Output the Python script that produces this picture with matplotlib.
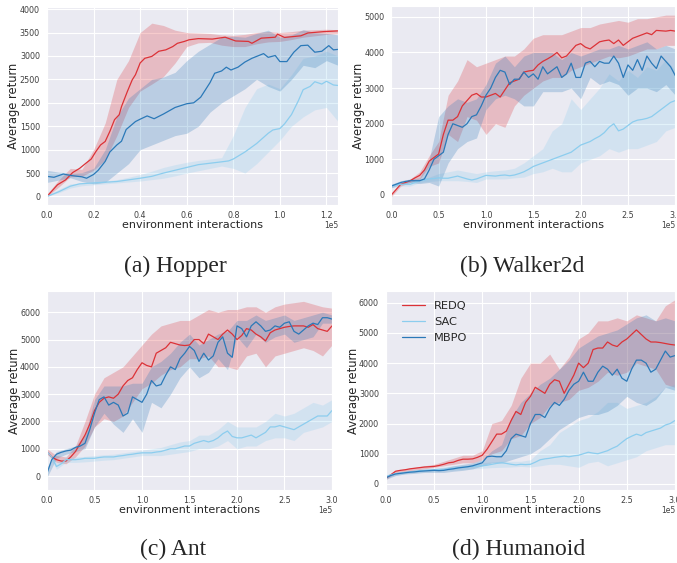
import matplotlib
matplotlib.use('Agg')
import matplotlib.pyplot as plt
import numpy as np
import seaborn as sns

sns.set_style('darkgrid')
plt.rcParams['font.family'] = ['DejaVu Sans']

# ---------------- data (x in units of 1e5 env interactions) ----------------
# Hopper
hop_redq_x = [0, 0.045, 0.08, 0.11, 0.14, 0.167, 0.19, 0.21, 0.23, 0.25, 0.27, 0.29, 0.31, 0.32,
              0.345, 0.366, 0.38, 0.40, 0.42, 0.45, 0.48, 0.51, 0.54, 0.56, 0.59, 0.61, 0.65, 0.71,
              0.765, 0.81, 0.865, 0.88, 0.92, 0.98, 0.99, 1.02, 1.09, 1.12, 1.19, 1.25]
hop_redq_y = [0, 250, 355, 510, 600, 710, 800, 960, 1100, 1175, 1390, 1640, 1745, 1920,
              2240, 2490, 2600, 2850, 2950, 2990, 3100, 3130, 3200, 3270, 3310, 3345, 3370, 3360,
              3400, 3320, 3310, 3270, 3380, 3400, 3465, 3395, 3430, 3490, 3520, 3535]
hop_mbpo_x = [0, 0.03, 0.07, 0.1, 0.15, 0.17, 0.2, 0.22, 0.25, 0.27, 0.3, 0.32, 0.34, 0.38, 0.4,
              0.43, 0.46, 0.5, 0.55, 0.6, 0.63, 0.66, 0.7, 0.72, 0.75, 0.77, 0.79, 0.82, 0.85, 0.88,
              0.9, 0.93, 0.95, 0.98, 1.0, 1.03, 1.06, 1.09, 1.12, 1.15, 1.18, 1.21, 1.23, 1.25]
hop_mbpo_y = [430, 410, 480, 450, 420, 390, 470, 560, 750, 950, 1100, 1180, 1430, 1600, 1650,
              1720, 1660, 1760, 1900, 1980, 2000, 2120, 2430, 2630, 2680, 2760, 2700, 2760, 2870, 2950,
              2990, 3050, 2970, 3010, 2880, 2880, 3080, 3220, 3230, 3080, 3100, 3220, 3130, 3140]
hop_sac_x = [0, 0.05, 0.1, 0.14, 0.2, 0.3, 0.4, 0.45, 0.5, 0.55, 0.6, 0.65, 0.7, 0.75, 0.78, 0.8,
             0.85, 0.9, 0.95, 0.97, 1.0, 1.02, 1.05, 1.08, 1.1, 1.13, 1.15, 1.18, 1.2, 1.23, 1.25]
hop_sac_y = [0, 100, 220, 270, 290, 320, 390, 430, 500, 560, 620, 680, 710, 740, 760, 800,
             950, 1130, 1350, 1420, 1450, 1550, 1750, 2050, 2280, 2350, 2450, 2400, 2460, 2380, 2370]
hop_band_x = [0, 0.05, 0.1, 0.15, 0.2, 0.25, 0.3, 0.35, 0.4, 0.45, 0.5, 0.55, 0.6, 0.65, 0.7,
              0.75, 0.8, 0.85, 0.9, 0.95, 1.0, 1.05, 1.1, 1.15, 1.2, 1.25]
hop_redq_hi = [50, 350, 600, 580, 1000, 1570, 2500, 2900, 3500, 3700, 3650, 3550, 3500, 3490, 3480,
               3450, 3440, 3460, 3500, 3520, 3500, 3520, 3550, 3560, 3570, 3560]
hop_redq_lo = [0, 200, 420, 430, 560, 780, 1300, 1900, 2250, 2400, 2560, 2850, 3200, 3280, 3290,
               3230, 3200, 3200, 3260, 3300, 3310, 3350, 3400, 3430, 3460, 3480]
hop_mbpo_hi = [560, 520, 500, 510, 600, 1000, 1700, 2100, 2300, 2500, 2550, 2650, 2900, 3100, 3250,
               3400, 3420, 3400, 3480, 3550, 3400, 3450, 3560, 3500, 3480, 3450]
hop_mbpo_lo = [300, 350, 400, 320, 270, 300, 500, 700, 1000, 1100, 1200, 1300, 1350, 1500, 1800,
               2000, 2150, 2300, 2500, 2350, 2250, 2500, 2800, 2750, 2900, 2800]
hop_sac_hi = [30, 150, 270, 290, 300, 330, 360, 410, 470, 540, 620, 680, 730, 770, 800,
              830, 1300, 1900, 2300, 2400, 2300, 2600, 2950, 3000, 3100, 3000]
hop_sac_lo = [0, 80, 180, 230, 250, 270, 290, 310, 330, 360, 390, 440, 500, 550, 600,
              650, 600, 500, 700, 950, 1200, 1500, 1700, 1850, 1900, 1600]

# shared sample points for the 3e5-step tasks
steps_mean = [0, 0.05, 0.1, 0.15, 0.2, 0.25, 0.3, 0.35, 0.4, 0.45, 0.5, 0.55, 0.6, 0.65, 0.7, 0.75,
              0.8, 0.85, 0.9, 0.95, 1.0, 1.05, 1.1, 1.15, 1.2, 1.25, 1.3, 1.35, 1.4, 1.45, 1.5,
              1.55, 1.6, 1.65, 1.7, 1.75, 1.8, 1.85, 1.9, 1.95, 2.0, 2.05, 2.1, 2.15, 2.2, 2.25,
              2.3, 2.35, 2.4, 2.45, 2.5, 2.55, 2.6, 2.65, 2.7, 2.75, 2.8, 2.85, 2.9, 2.95, 3.0]
steps_band = [0, 0.1, 0.2, 0.3, 0.4, 0.5, 0.6, 0.7, 0.8, 0.9, 1.0, 1.1, 1.2, 1.3, 1.4, 1.5,
              1.6, 1.7, 1.8, 1.9, 2.0, 2.1, 2.2, 2.3, 2.4, 2.5, 2.6, 2.7, 2.8, 2.9, 3.0]

# Walker2d
walk_redq_y = [0, 150, 300, 350, 400, 480, 550, 700, 950, 1050, 1150, 1700, 2100, 2100, 2200, 2500,
               2650, 2800, 2850, 2750, 2750, 2800, 2850, 2750, 2950, 3150, 3200, 3250, 3450, 3480, 3500,
               3650, 3750, 3820, 3900, 4000, 3850, 3900, 4050, 4200, 4250, 4150, 4100, 4200, 4300, 4330,
               4350, 4250, 4350, 4200, 4300, 4400, 4450, 4500, 4550, 4500, 4620, 4610, 4600, 4620, 4600]
walk_mbpo_y = [250, 300, 350, 380, 400, 400, 400, 450, 700, 1000, 1100, 1200, 1700, 2000, 1950, 1900,
               2000, 2200, 2250, 2500, 2800, 3000, 3300, 3500, 3450, 3100, 3250, 3250, 3450, 3300, 3400,
               3250, 3600, 3400, 3500, 3600, 3300, 3400, 3700, 3300, 3300, 3700, 3750, 3600, 3750, 3700,
               3700, 3900, 3700, 3300, 3650, 3500, 3800, 3500, 3900, 3700, 3550, 3900, 3750, 3600, 3350]
walk_sac_y = [250, 280, 300, 300, 300, 350, 400, 420, 450, 460, 480, 470, 470, 500, 530, 490,
              450, 420, 450, 500, 550, 540, 530, 550, 560, 540, 560, 600, 650, 720, 800,
              850, 900, 950, 1000, 1050, 1100, 1150, 1200, 1300, 1400, 1450, 1500, 1580, 1650, 1750,
              1900, 2000, 1800, 1850, 1950, 2050, 2100, 2120, 2150, 2200, 2300, 2400, 2500, 2600, 2650]
walk_redq_hi = [50, 300, 450, 650, 1100, 1500, 2800, 3200, 3800, 3600, 3700, 3800, 3900, 3900, 4100, 4400,
                4500, 4500, 4500, 4600, 4700, 4700, 4800, 4850, 4900, 4850, 4950, 4950, 5000, 5050, 5050]
walk_redq_lo = [-50, 250, 350, 450, 800, 900, 1700, 1500, 2200, 2100, 1700, 2000, 1900, 2500, 2800, 3000,
                3200, 3300, 3300, 3500, 3600, 3700, 3800, 3900, 3850, 3900, 4000, 4100, 4100, 4200, 4200]
walk_mbpo_hi = [300, 400, 450, 480, 1000, 2200, 2500, 2700, 2600, 2700, 3100, 3700, 3900, 3600, 3900, 4000,
                4000, 4000, 3800, 4000, 3900, 4000, 4100, 4100, 4200, 4100, 4200, 4300, 4100, 4200, 4100]
walk_mbpo_lo = [200, 300, 350, 320, 350, 250, 900, 1300, 1500, 1600, 2400, 2700, 2800, 2700, 2500, 2500,
                2900, 2900, 2900, 3000, 2700, 3300, 3100, 3200, 3100, 2800, 3000, 3000, 2900, 3100, 2800]
walk_sac_hi = [300, 350, 400, 450, 500, 600, 650, 700, 650, 600, 650, 680, 700, 750, 900, 1100,
               1300, 1800, 2000, 2700, 2400, 2700, 3000, 3400, 3200, 3500, 3300, 3600, 3500, 3800, 3500]
walk_sac_lo = [200, 250, 250, 350, 380, 400, 400, 400, 380, 350, 450, 450, 450, 480, 500, 600,
               650, 750, 650, 650, 900, 1000, 1100, 1300, 1200, 1300, 1300, 1400, 1500, 1800, 1900]

# Ant
ant_redq_y = [900, 700, 600, 550, 550, 700, 900, 1200, 1500, 1900, 2400, 2700, 2850, 2900, 2850, 3000,
              3300, 3500, 3600, 3900, 4150, 4050, 4000, 4500, 4600, 4700, 4900, 4850, 4800, 4780, 4800,
              5000, 5000, 4850, 5200, 5100, 5000, 5200, 5350, 5200, 5000, 5150, 5400, 5350, 5200, 5100,
              4950, 5250, 5350, 5400, 5450, 5480, 5500, 5500, 5500, 5450, 5550, 5400, 5350, 5300, 5500]
ant_mbpo_y = [100, 600, 800, 870, 920, 950, 1050, 1100, 1200, 1700, 2300, 2800, 2900, 2600, 2700, 2600,
              2200, 2300, 2900, 2800, 2700, 3000, 3500, 3300, 3350, 3700, 4000, 3900, 4300, 4500, 4750,
              4600, 4200, 4500, 4250, 4400, 4900, 5100, 4500, 4350, 5500, 5400, 5100, 5500, 5650, 5500,
              5300, 5350, 5500, 5450, 5600, 5650, 5300, 5200, 5350, 5500, 5600, 5550, 5800, 5800, 5750]
ant_sac_y = [900, 700, 350, 450, 600, 600, 600, 620, 650, 650, 650, 680, 700, 700, 700, 730,
             750, 780, 800, 830, 850, 850, 850, 880, 900, 950, 1000, 1000, 1050, 1100, 1100,
             1200, 1250, 1300, 1250, 1300, 1400, 1550, 1650, 1450, 1400, 1400, 1450, 1500, 1400, 1500,
             1600, 1800, 1800, 1850, 1800, 1750, 1700, 1800, 1900, 2000, 2100, 2200, 2200, 2200, 2400]
ant_redq_hi = [1000, 750, 700, 1100, 2000, 3000, 3600, 3800, 4000, 4400, 4800, 5200, 5500, 5600, 5700, 5700,
               5900, 6100, 6000, 6100, 6100, 6200, 6200, 6000, 6200, 6300, 6350, 6400, 6300, 6200, 6150]
ant_redq_lo = [800, 500, 450, 700, 1100, 1800, 2100, 2000, 2200, 2700, 3200, 3400, 3700, 3900, 4000, 4300,
               4300, 4400, 4000, 4000, 3900, 4400, 4500, 4000, 4400, 4500, 4600, 4700, 4600, 4400, 4800]
ant_mbpo_hi = [300, 900, 1000, 1100, 1500, 2800, 3300, 3300, 3300, 3400, 3400, 4000, 4200, 4500, 4900, 5200,
               4800, 5000, 5200, 5300, 5700, 5700, 5900, 5700, 5800, 5900, 5700, 5800, 5900, 6000, 5900]
ant_mbpo_lo = [-50, 650, 800, 900, 1000, 1800, 2300, 1900, 1600, 2100, 1600, 2700, 2500, 3000, 3600, 4000,
               3600, 3800, 4300, 3900, 5100, 4700, 5200, 4900, 5100, 5200, 4900, 5000, 5100, 5600, 5600]
ant_sac_hi = [950, 500, 700, 700, 720, 750, 780, 800, 850, 900, 950, 1000, 1050, 1150, 1250, 1300,
              1500, 1500, 1700, 2000, 1800, 1800, 1800, 2000, 2300, 2200, 2300, 2500, 2700, 2600, 2800]
ant_sac_lo = [850, 250, 500, 500, 520, 550, 580, 600, 650, 700, 750, 750, 750, 800, 850, 900,
              1000, 1000, 1100, 1300, 1000, 1100, 1100, 1300, 1400, 1400, 1300, 1600, 1700, 1800, 2000]

# Humanoid
hum_redq_y = [200, 300, 420, 450, 470, 500, 520, 540, 560, 570, 580, 610, 650, 700, 720, 780,
              820, 820, 830, 880, 950, 1150, 1400, 1650, 1650, 1750, 2100, 2400, 2300, 2700, 2900,
              3200, 3100, 3000, 3300, 3450, 3400, 3000, 3300, 3600, 4000, 3850, 4000, 4450, 4500, 4500,
              4700, 4600, 4550, 4700, 4800, 4950, 5100, 4950, 4800, 4700, 4700, 4680, 4650, 4620, 4600]
hum_mbpo_y = [200, 280, 330, 350, 370, 390, 400, 420, 430, 440, 450, 440, 450, 480, 500, 530,
              550, 570, 600, 650, 700, 900, 920, 900, 900, 1100, 1500, 1650, 1600, 1550, 2000,
              2300, 2300, 2200, 2500, 2700, 2600, 2800, 3100, 3300, 3400, 3700, 3400, 3400, 3700, 3900,
              3800, 3600, 3800, 3500, 3400, 3800, 4100, 4100, 4000, 3700, 3800, 4100, 4400, 4200, 4250]
hum_sac_y = [250, 300, 340, 360, 380, 400, 420, 440, 450, 460, 470, 480, 480, 500, 520, 540,
             550, 570, 580, 590, 600, 620, 650, 680, 700, 680, 650, 630, 650, 640, 650,
             720, 800, 830, 850, 880, 900, 920, 900, 930, 950, 1000, 1050, 1020, 1000, 1050,
             1100, 1180, 1250, 1380, 1500, 1580, 1650, 1600, 1700, 1750, 1800, 1850, 1950, 2000, 2100]
hum_redq_hi = [250, 450, 500, 550, 600, 650, 750, 850, 950, 950, 1100, 2000, 2100, 2600, 3500, 4000,
               4000, 4300, 3800, 4200, 4800, 5000, 5400, 5400, 5500, 5400, 5600, 5500, 5400, 5900, 6100]
hum_redq_lo = [150, 350, 400, 450, 500, 550, 600, 650, 700, 700, 800, 1000, 1100, 1500, 1600, 2000,
               2200, 2600, 2700, 2800, 3100, 3200, 3400, 3700, 3600, 3700, 4000, 3900, 3800, 3300, 3200]
hum_mbpo_hi = [250, 380, 420, 450, 480, 500, 530, 600, 650, 700, 800, 1100, 1300, 2200, 2700, 3000,
               3300, 3500, 3800, 4100, 4500, 4700, 4900, 5000, 5100, 5300, 5500, 5600, 5400, 5500, 5400]
hum_mbpo_lo = [150, 280, 330, 350, 380, 380, 380, 420, 450, 500, 600, 700, 700, 800, 900, 1000,
               1200, 1500, 1800, 2000, 2200, 2300, 2300, 2400, 2600, 2900, 2700, 2600, 2800, 3200, 3100]
hum_sac_hi = [280, 350, 420, 470, 500, 530, 560, 600, 620, 650, 700, 730, 750, 750, 750, 800,
              1100, 1300, 1700, 1900, 2100, 2200, 2400, 2700, 2700, 2500, 2600, 2700, 2900, 3200, 3300]
hum_sac_lo = [220, 280, 340, 380, 400, 420, 440, 460, 480, 500, 520, 540, 550, 560, 580, 560,
              600, 650, 650, 600, 550, 700, 750, 600, 700, 800, 900, 1100, 1200, 1300, 1300]

algos = ['REDQ', 'SAC', 'MBPO']
colors = {'REDQ': '#dc3237', 'SAC': '#8ccdee', 'MBPO': '#2b79b8'}

panels = [
    dict(caption='(a) Hopper', cap_xy=(0.2585, 0.527), xlim=1.25, ylim=(-180, 4050),
         yticks=[0, 500, 1000, 1500, 2000, 2500, 3000, 3500, 4000],
         rect=[0.0694, 0.636, 0.430, 0.352], band_x=hop_band_x,
         curves={'REDQ': (hop_redq_x, hop_redq_y, hop_redq_lo, hop_redq_hi),
                 'SAC': (hop_sac_x, hop_sac_y, hop_sac_lo, hop_sac_hi),
                 'MBPO': (hop_mbpo_x, hop_mbpo_y, hop_mbpo_lo, hop_mbpo_hi)}),
    dict(caption='(b) Walker2d', cap_xy=(0.771, 0.527), xlim=3.0, ylim=(-280, 5300),
         yticks=[0, 1000, 2000, 3000, 4000, 5000],
         rect=[0.578, 0.636, 0.4195, 0.353], band_x=steps_band,
         curves={'REDQ': (steps_mean, walk_redq_y, walk_redq_lo, walk_redq_hi),
                 'SAC': (steps_mean, walk_sac_y, walk_sac_lo, walk_sac_hi),
                 'MBPO': (steps_mean, walk_mbpo_y, walk_mbpo_lo, walk_mbpo_hi)}),
    dict(caption='(c) Ant', cap_xy=(0.2555, 0.024), xlim=3.0, ylim=(-510, 6780),
         yticks=[0, 1000, 2000, 3000, 4000, 5000, 6000],
         rect=[0.0694, 0.1297, 0.421, 0.3535], band_x=steps_band,
         curves={'REDQ': (steps_mean, ant_redq_y, ant_redq_lo, ant_redq_hi),
                 'SAC': (steps_mean, ant_sac_y, ant_sac_lo, ant_sac_hi),
                 'MBPO': (steps_mean, ant_mbpo_y, ant_mbpo_lo, ant_mbpo_hi)}),
    dict(caption='(d) Humanoid', cap_xy=(0.7666, 0.024), xlim=3.0, ylim=(-200, 6390),
         yticks=[0, 1000, 2000, 3000, 4000, 5000, 6000],
         rect=[0.570, 0.1297, 0.427, 0.3535], band_x=steps_band,
         curves={'REDQ': (steps_mean, hum_redq_y, hum_redq_lo, hum_redq_hi),
                 'SAC': (steps_mean, hum_sac_y, hum_sac_lo, hum_sac_hi),
                 'MBPO': (steps_mean, hum_mbpo_y, hum_mbpo_lo, hum_mbpo_hi)}),
]

fig = plt.figure(figsize=(6.77, 5.63), dpi=100)

for p in panels:
    ax = fig.add_axes(p['rect'])
    bx = np.array(p['band_x']) * 1e5
    for name in algos:
        x, y, lo, hi = p['curves'][name]
        ax.fill_between(bx, lo, hi, color=colors[name], alpha=0.25, linewidth=0)
        ax.plot(np.array(x) * 1e5, y, color=colors[name], lw=0.9, label=name)
    ax.set_xlim(0, p['xlim'] * 1e5)
    ax.set_ylim(*p['ylim'])
    ax.set_yticks(p['yticks'])
    ax.ticklabel_format(axis='x', style='sci', scilimits=(0, 0))
    ax.tick_params(labelsize=5.8, pad=1.5, colors='0.25')
    ax.tick_params(axis='x', pad=1)
    # place the "1e5" multiplier just under the last tick label, as in the original
    ax.xaxis.get_offset_text().set_visible(False)
    ax.text(1.0, -0.082, '1e5', transform=ax.transAxes, ha='right', va='top',
            fontsize=5.5, color='0.25')
    ax.set_xlabel('environment interactions', fontsize=8, labelpad=0, color='0.15')
    ax.set_ylabel('Average return', fontsize=8.3, labelpad=-0.5, color='0.15')
    fig.text(p['cap_xy'][0], p['cap_xy'][1], p['caption'], ha='center', va='center',
             fontsize=17, family='Liberation Serif')
    if p['caption'].startswith('(d)'):
        ax.legend(loc='upper left', frameon=False, fontsize=8.2, bbox_to_anchor=(0.02, 1.0))

fig.savefig('out.png', dpi=100)
